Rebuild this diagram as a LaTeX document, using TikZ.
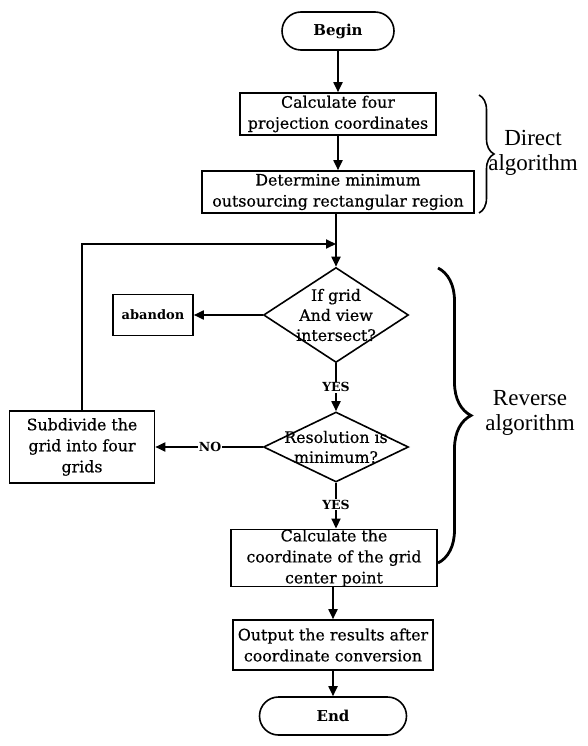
\documentclass[tikz,border=0pt]{standalone}
\usepackage{fontspec}
\setmainfont{DejaVu Serif}
\newfontfamily\boxfont[FakeBold=0.5]{DejaVu Serif}
\newfontfamily\labfont{Liberation Serif}
\usetikzlibrary{shapes.geometric,shapes.misc,arrows.meta,decorations.pathreplacing}
\begin{document}
\begin{tikzpicture}[x=1pt,y=-1pt,
  box/.style={draw,line width=1.6pt,rectangle,inner sep=0pt,align=center,font=\boxfont\fontsize{15.8}{21}\selectfont},
  term/.style={draw,rounded rectangle,line width=1.6pt,inner sep=0pt,font=\bfseries\fontsize{15}{17}\selectfont},
  dia/.style={draw,diamond,line width=1.6pt,inner sep=0pt},
  diatext/.style={align=center,font=\boxfont\fontsize{15.8}{20}\selectfont},
  arr/.style={line width=1.8pt,-{Triangle[length=10pt,width=9pt]}},
  tag/.style={fill=white,inner sep=1pt,font=\bfseries\fontsize{12.5}{14}\selectfont},
  group/.style={align=center,font=\labfont\fontsize{23}{25}\selectfont},
  bracestyle/.style={decorate,line width=1.6pt}]
\useasboundingbox (0,0) rectangle (587,746);
\node[term,minimum width=112pt,minimum height=38pt] (begin) at (338,31) {Begin};
\node[box,minimum width=196pt,minimum height=42pt] (b1) at (338,114) {Calculate four\\projection coordinates};
\node[box,minimum width=272pt,minimum height=42pt] (b2) at (338,192) {Determine minimum\\outsourcing rectangular region};
\coordinate (join) at (336,244);
\node[dia,minimum width=145pt,minimum height=95pt,label={[diatext]center:{If grid\\And view\\intersect?}}] (d1) at (336,315) {};
\node[box,minimum width=80pt,minimum height=41pt,font=\bfseries\fontsize{13}{15}\selectfont] (ab) at (153,315) {abandon};
\node[dia,minimum width=145pt,minimum height=70pt,label={[diatext]center:{Resolution is\\minimum?}}] (d2) at (336,447) {};
\node[box,minimum width=145pt,minimum height=72pt] (sub) at (82,447) {Subdivide the\\grid into four\\grids};
\node[box,minimum width=206pt,minimum height=57pt] (b3) at (334,558) {Calculate the\\coordinate of the grid\\center point};
\node[box,minimum width=200pt,minimum height=50pt] (b4) at (333,645) {Output the results after\\coordinate conversion};
\node[term,minimum width=147pt,minimum height=38pt] (end) at (333,716) {End};

\draw[arr] (begin) -- (begin |- b1.north);
\draw[arr] (b1) -- (b1 |- b2.north);
\draw[arr] (b2.south -| join) -- (d1.north);
\draw[arr] (sub.north) |- (join);
\draw[arr] (d1) -- (ab);
\draw[arr] (d1) -- node[tag]{YES} (d2);
\draw[arr] (d2) -- node[tag,pos=0.49]{NO} (sub);
\draw[arr] (d2.south) -- node[tag,pos=0.48]{YES} (d2.south |- b3.north);
\draw[arr] (b3.south -| b4) -- (b4);
\draw[arr] (b4) -- (end);

\coordinate (db1) at (479,95);
\coordinate (db2) at (479,213);
\draw[bracestyle,decoration={brace,amplitude=15pt}] (db1) -- (db2);
\node[group] (direct) at (533,153) {Direct\\algorithm};
\coordinate (rb1) at (438,268);
\coordinate (rb2) at (438,563);
\draw[bracestyle,line width=2.8pt,decoration={brace,amplitude=33pt}] (rb1) -- (rb2);
\node[group] (reverse) at (530,413) {Reverse\\algorithm};
\end{tikzpicture}
\end{document}
